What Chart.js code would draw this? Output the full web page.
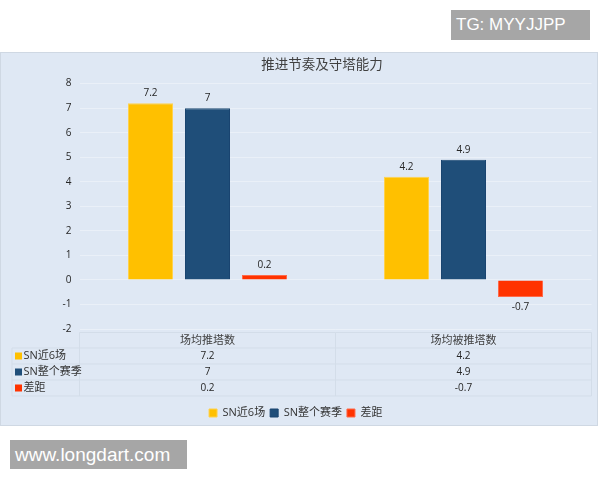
<!DOCTYPE html>
<html><head><meta charset="utf-8">
<script src="https://cdn.jsdelivr.net/npm/chart.js@4/dist/chart.umd.min.js"></script>
<style>
html,body{margin:0;padding:0;background:#fff;}
#wrap{position:relative;width:600px;height:480px;overflow:hidden;}
canvas{position:absolute;left:0;top:0;}
.wm{position:absolute;background:#a6a6a6;color:#fff;font-family:"Liberation Sans",Arial,sans-serif;box-sizing:border-box;white-space:nowrap;}
#tg{left:451px;top:10px;width:139px;height:30px;font-size:17px;line-height:30px;padding-left:5px;}
#www{left:10px;top:440px;width:177px;height:29px;font-size:19px;line-height:29px;padding-left:5px;}
</style></head>
<body>
<div id="wrap"><canvas id="c" width="600" height="480"></canvas>
<div class="wm" id="tg">TG: MYYJJPP</div>
<div class="wm" id="www">www.longdart.com</div>
</div>
<script>
const chartTitle = '推进节奏及守塔能力';
const categories = ['场均推塔数', '场均被推塔数'];
const seriesNames = ['SN近6场', 'SN整个赛季', '差距'];
const recent6 = [7.2, 4.2];
const fullSeason = [7, 4.9];
const gap = [0.2, -0.7];
const yMin = -2, yMax = 8, yStep = 1;

const colors = ['#ffc000', '#1f4e79', '#ff3300'];
const borders = ['#ffd24d', '#1a4570', '#ff6a4a'];
const numFont = "'Open Sans', 'Noto Sans CJK SC', sans-serif";
const cjkFont = "'Noto Sans CJK SC', 'Open Sans', sans-serif";
const textColor = '#333333';
const tableLine = '#d3dde9';

const bgPlugin = {
  id: 'bg',
  beforeDraw(chart) {
    const c = chart.ctx;
    c.save();
    c.fillStyle = '#ffffff';
    c.fillRect(0, 0, chart.width, chart.height);
    c.fillStyle = '#dfe8f4';
    c.fillRect(0, 52, 598, 374);
    c.strokeStyle = '#cfd8e3';
    c.lineWidth = 1;
    c.strokeRect(0.5, 52.5, 597, 373);
    c.fillStyle = '#404040';
    c.font = "13.5px " + cjkFont;
    c.textAlign = 'center';
    c.textBaseline = 'middle';
    c.fillText(chartTitle, 322, 64);
    c.restore();
  }
};

const valueLabels = {
  id: 'valueLabels',
  afterDatasetsDraw(chart) {
    const c = chart.ctx;
    c.save();
    c.fillStyle = '#262626';
    c.font = "10px " + numFont;
    c.textAlign = 'center';
    c.textBaseline = 'middle';
    chart.data.datasets.forEach((ds, di) => {
      const meta = chart.getDatasetMeta(di);
      meta.data.forEach((el, i) => {
        const v = ds.data[i];
        const y = v >= 0 ? el.y - 10 : el.y + 10;
        c.fillText(String(v), el.x, y);
      });
    });
    c.restore();
  }
};

const dataTable = {
  id: 'dataTable',
  afterDraw(chart) {
    const c = chart.ctx;
    const xs = chart.scales.x;
    const ca = chart.chartArea;
    const left = ca.left, right = ca.right;
    const headTop = ca.bottom + 3.5;
    const rowH = 16;
    const rowsTop = headTop + 15.5;
    const labelLeft = 12;
    const nRows = chart.data.datasets.length;
    const bottom = rowsTop + nRows * rowH;
    c.save();
    c.strokeStyle = tableLine;
    c.lineWidth = 1;
    c.beginPath();
    c.moveTo(left, headTop); c.lineTo(right, headTop);
    for (let r = 0; r <= nRows; r++) {
      const y = rowsTop + r * rowH;
      c.moveTo(labelLeft, y); c.lineTo(right, y);
    }
    c.moveTo(left, headTop); c.lineTo(left, bottom);
    c.moveTo(right, headTop); c.lineTo(right, bottom);
    c.moveTo(labelLeft, rowsTop); c.lineTo(labelLeft, bottom);
    for (let i = 1; i < categories.length; i++) {
      const mx = (xs.getPixelForValue(i - 1) + xs.getPixelForValue(i)) / 2;
      c.moveTo(mx, headTop); c.lineTo(mx, bottom);
    }
    c.stroke();
    c.textBaseline = 'middle';
    c.textAlign = 'center';
    c.fillStyle = '#404040';
    c.font = "11px " + cjkFont;
    chart.data.labels.forEach((lab, i) => {
      c.fillText(lab, xs.getPixelForValue(i), (headTop + rowsTop) / 2);
    });
    chart.data.datasets.forEach((ds, di) => {
      const cy = rowsTop + di * rowH + rowH / 2;
      c.fillStyle = ds.backgroundColor;
      c.fillRect(15, cy - 3.5, 7, 7);
      c.fillStyle = textColor;
      c.textAlign = 'left';
      c.font = "11px " + numFont;
      c.fillText(ds.label, 23.5, cy);
      c.textAlign = 'center';
      c.font = "10px " + numFont;
      c.fillStyle = '#262626';
      ds.data.forEach((v, i) => {
        c.fillText(String(v), xs.getPixelForValue(i), cy);
      });
    });
    c.restore();
  }
};

new Chart(document.getElementById('c'), {
  type: 'bar',
  data: {
    labels: categories,
    datasets: [
      { label: seriesNames[0], data: recent6, backgroundColor: colors[0], borderColor: borders[0], borderWidth: 1 },
      { label: seriesNames[1], data: fullSeason, backgroundColor: colors[1], borderColor: borders[1], borderWidth: 1 },
      { label: seriesNames[2], data: gap, backgroundColor: colors[2], borderColor: borders[2], borderWidth: 1 }
    ]
  },
  options: {
    responsive: false,
    animation: false,
    devicePixelRatio: 1,
    layout: { padding: { top: 83.6, left: 0, right: 8.5, bottom: 51.5 } },
    datasets: { bar: { categoryPercentage: 0.668, barPercentage: 0.79 } },
    scales: {
      x: {
        grid: { display: false },
        border: { display: false },
        ticks: { display: false },
        afterFit(s) { s.height = 73.5; }
      },
      y: {
        min: yMin, max: yMax,
        ticks: { stepSize: yStep, padding: 8, color: '#262626', font: { size: 10, family: numFont } },
        grid: { color: '#eaf0f8', drawTicks: false, lineWidth: 1 },
        border: { display: false },
        afterFit(s) { s.width = 79.5; }
      }
    },
    plugins: {
      legend: {
        position: 'bottom',
        labels: { boxWidth: 8, boxHeight: 8, padding: 5, color: textColor, font: { size: 11, family: numFont } }
      },
      tooltip: { enabled: false },
      title: { display: false }
    }
  },
  plugins: [bgPlugin, valueLabels, dataTable]
});
</script>
</body></html>
